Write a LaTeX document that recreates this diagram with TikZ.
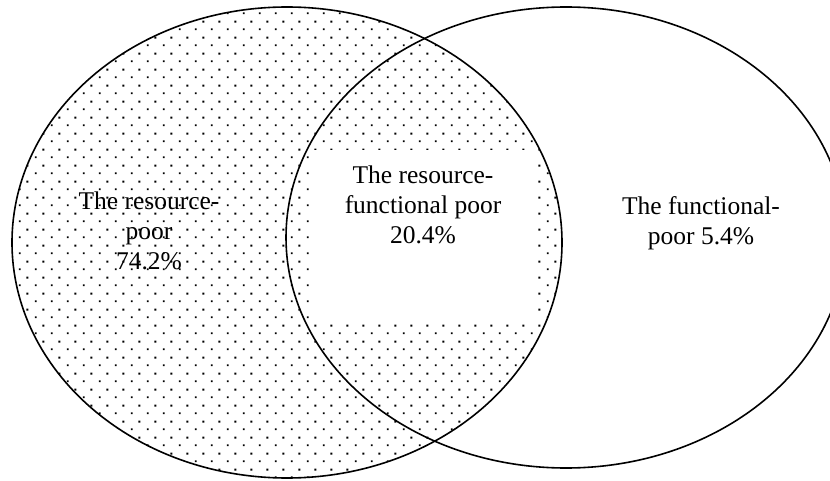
\documentclass[tikz,border=0pt]{standalone}
\usepackage{fontspec}
\setmainfont{Liberation Serif}
\usetikzlibrary{patterns}
\pgfdeclarepatternformonly{sparsedots}{\pgfqpoint{0pt}{0pt}}{\pgfqpoint{16pt}{16pt}}{\pgfqpoint{16pt}{16pt}}{%
\pgfpathrectangle{\pgfqpoint{3pt}{3pt}}{\pgfqpoint{2pt}{2pt}}%
\pgfpathrectangle{\pgfqpoint{11pt}{11pt}}{\pgfqpoint{2pt}{2pt}}%
\pgfusepath{fill}}
\begin{document}
\begin{tikzpicture}[x=1pt,y=-1pt,
  ring/.style={draw=black,line width=1.6pt},
  lbl/.style={font=\fontsize{25.5}{30}\selectfont, align=center, inner sep=0pt}]
\useasboundingbox (0,0) rectangle (830,481);
\clip (0,0) rectangle (830,481);
\fill[pattern=sparsedots] (287,242.5) ellipse [x radius=275, y radius=235.5];
\fill[white] (310,150) rectangle (538,319);
\draw[ring] (287,242.5) ellipse [x radius=275, y radius=235.5];
\draw[ring] (566,237.5) ellipse [x radius=280, y radius=230.5];
\node[lbl] (rp) at (149,230.5) {The resource-\\poor\\74.2\%};
\node[lbl] (rfp) at (423,204.5) {The resource-\\functional poor\\20.4\%};
\node[lbl] (fp) at (701,223) {The functional-\\poor 5.4\%};
\end{tikzpicture}
\end{document}
